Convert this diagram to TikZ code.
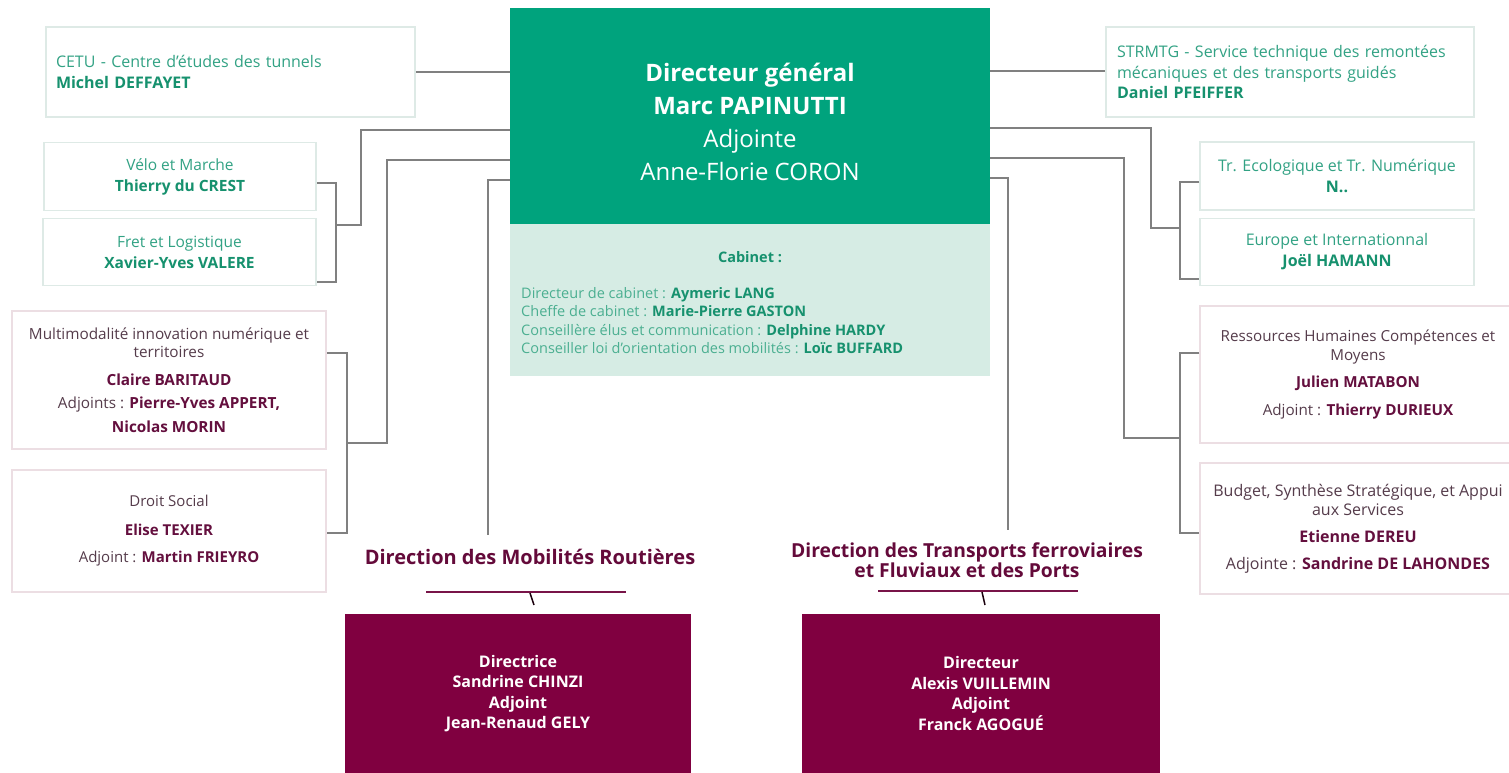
\documentclass[tikz,border=0pt]{standalone}
\usepackage{fontspec}
\setmainfont{Open Sans}
\definecolor{dgreen}{RGB}{0,163,125}
\definecolor{lgreen}{RGB}{214,236,228}
\definecolor{gtext}{RGB}{50,162,132}
\definecolor{gbold}{RGB}{22,145,110}
\definecolor{ctext}{RGB}{75,175,145}
\definecolor{gborder}{RGB}{222,234,230}
\definecolor{mborder}{RGB}{236,222,227}
\definecolor{mtext}{RGB}{85,60,75}
\definecolor{mbold}{RGB}{100,15,62}
\definecolor{maroon}{RGB}{128,0,64}
\definecolor{titlec}{RGB}{100,10,58}
\definecolor{linegray}{RGB}{128,128,128}
\definecolor{ulc}{RGB}{120,20,72}
\tikzset{
  gbox/.style={draw=gborder, line width=1.5pt, fill=white, rectangle, inner sep=0pt, align=center, text=gtext, font=\fontsize{15.5}{21}\selectfont},
  mbox/.style={draw=mborder, line width=1.5pt, fill=white, rectangle, inner sep=0pt, align=center, text=mtext},
  dirbox/.style={fill=maroon, rectangle, inner sep=0pt, align=center, text=white, font=\bfseries\fontsize{16}{20.5}\selectfont},
  ttl/.style={text=titlec, align=center, font=\bfseries\fontsize{20}{20}\selectfont},
  conn/.style={draw=linegray, line width=2pt, line join=miter},
  uline/.style={draw=ulc, line width=2pt},
  tick/.style={draw=black!80!maroon, line width=1.5pt}
}
\newcommand\gb[1]{\textcolor{gbold}{\bfseries #1}}
\newcommand\mb[1]{\textcolor{mbold}{\bfseries #1}}
\begin{document}
\begin{tikzpicture}[x=1pt,y=-1pt]
\useasboundingbox (0,0) rectangle (1509,773);
\fill[white] (0,0) rectangle (1509,773);

% central director box and cabinet
\node[fill=dgreen, rectangle, inner sep=0pt, minimum width=480pt, minimum height=216pt] (dg) at (750,116) {};
\node[text=white, align=center, font=\fontsize{24}{33}\selectfont] (dgtext) at (750,122) {\bfseries Directeur général\\\bfseries Marc PAPINUTTI\\Adjointe\\Anne-Florie CORON};
\node[fill=lgreen, rectangle, inner sep=0pt, minimum width=480pt, minimum height=152pt] (cab) at (750,300) {};
\node[text=gbold, font=\bfseries\fontsize{14.5}{16}\selectfont] (cabt) at (750,257) {Cabinet :};
\node[anchor=west, align=left, inner sep=0pt, text=ctext, font=\fontsize{14.5}{18.3}\selectfont] (cabl) at (521,320.5) {Directeur de cabinet : \gb{Aymeric LANG}\\Cheffe de cabinet : \gb{Marie-Pierre GASTON}\\Conseillère élus et communication : \gb{Delphine HARDY}\\Conseiller loi d’orientation des mobilités : \gb{Loïc BUFFARD}};

% green-group boxes
\node[gbox, minimum width=369pt, minimum height=90pt, text width=349pt, align=left, font=\fontsize{16}{21}\selectfont] (cetu) at (230.5,72) {CETU - Centre d’études des tunnels\\\gb{Michel DEFFAYET}};
\node[gbox, minimum width=368pt, minimum height=90pt, text width=346pt, align=left, font=\fontsize{16}{20.5}\selectfont] (strm) at (1290,72) {\mbox{STRMTG - Service technique des remontées}\\mécaniques et des transports guidés\\\gb{Daniel PFEIFFER}};
\node[gbox, minimum width=272pt, minimum height=68pt] (velo) at (180,176.5) {Vélo et Marche\\\gb{Thierry du CREST}};
\node[gbox, minimum width=273pt, minimum height=67pt] (fret) at (179.5,252) {Fret et Logistique\\\gb{Xavier-Yves VALERE}};
\node[gbox, minimum width=274pt, minimum height=68pt, font=\fontsize{16}{21}\selectfont] (tr) at (1337,176) {Tr. Ecologique et Tr. Numérique\\\gb{N..}};
\node[gbox, minimum width=274pt, minimum height=67pt, font=\fontsize{16}{21}\selectfont] (eu) at (1337,252) {Europe et Internationnal\\\gb{Joël HAMANN}};

% maroon-group boxes
\node[mbox, minimum width=314pt, minimum height=138pt, font=\fontsize{15.3}{18}\selectfont] (mm) at (169,380) {Multimodalité innovation numérique et\\territoires\\[10pt]\mb{Claire BARITAUD}\\[5pt]Adjoints : \mb{Pierre-Yves APPERT,}\\[6pt]\mb{Nicolas MORIN}};
\node[mbox, minimum width=314pt, minimum height=122pt, font=\fontsize{15}{18}\selectfont] (ds) at (169,531) {Droit Social\\[11pt]\mb{Elise TEXIER}\\[9pt]Adjoint : \mb{Martin FRIEYRO}};
\node[mbox, minimum width=316pt, minimum height=137pt, font=\fontsize{15.2}{19}\selectfont] (rh) at (1358,374.5) {Ressources Humaines Compétences et\\Moyens\\[8pt]\mb{Julien MATABON}\\[9pt]Adjoint : \mb{Thierry DURIEUX}};
\node[mbox, minimum width=316pt, minimum height=131pt, font=\fontsize{16}{19}\selectfont] (bud) at (1358,528.5) {Budget, Synthèse Stratégique, et Appui\\aux Services\\[8pt]\mb{Etienne DEREU}\\[8pt]Adjointe : \mb{Sandrine DE LAHONDES}};

% directions
\node[ttl] (t1) at (530,557) {Direction des Mobilités Routières};
\node[ttl, font=\bfseries\fontsize{19.3}{20}\selectfont] (t2) at (967,560) {Direction des Transports ferroviaires\\et Fluviaux et des Ports};
\draw[uline] (426,592) -- (626,592);
\draw[tick] (530,593) -- (534,605);
\draw[uline] (878,591) -- (1078,591);
\draw[tick] (982,592) -- (985,605);
\node[dirbox, minimum width=346pt, minimum height=159pt] (dmr) at (518,693.5) {Directrice\\Sandrine CHINZI\\Adjoint\\Jean-Renaud GELY};
\node[dirbox, minimum width=358pt, minimum height=159pt] (dtf) at (981,693.5) {Directeur\\Alexis VUILLEMIN\\Adjoint\\Franck AGOGUÉ};

% connectors left
\draw[conn] (cetu.east) -- (cetu.east -| dg.west);
\draw[conn] (velo.east |- 0,183) -| (336,225) |- (fret.east |- 0,282);
\draw[conn] (336,225) -| (361,130) -- (dg.west |- 0,130);
\draw[conn] (dg.west |- 0,160) -| (387,443) -- (347,443);
\draw[conn] (mm.east |- 0,353) -| (347,443) |- (ds.east |- 0,533);
\coordinate (e1) at (488,535);
\draw[conn] (dg.west |- 0,180) -| (e1);
% connectors right
\draw[conn] (dg.east |- 0,71) -- (strm.west |- 0,71);
\draw[conn] (dg.east |- 0,128) -| (1151,228) -- (1180,228);
\draw[conn] (tr.west |- 0,182) -| (1180,228) |- (eu.west |- 0,279);
\draw[conn] (dg.east |- 0,158) -| (1124,438) -- (1180,438);
\draw[conn] (rh.west |- 0,353) -| (1180,438) |- (bud.west |- 0,533);
\coordinate (e2) at (1008,530);
\draw[conn] (dg.east |- 0,178) -| (e2);
\end{tikzpicture}
\end{document}
